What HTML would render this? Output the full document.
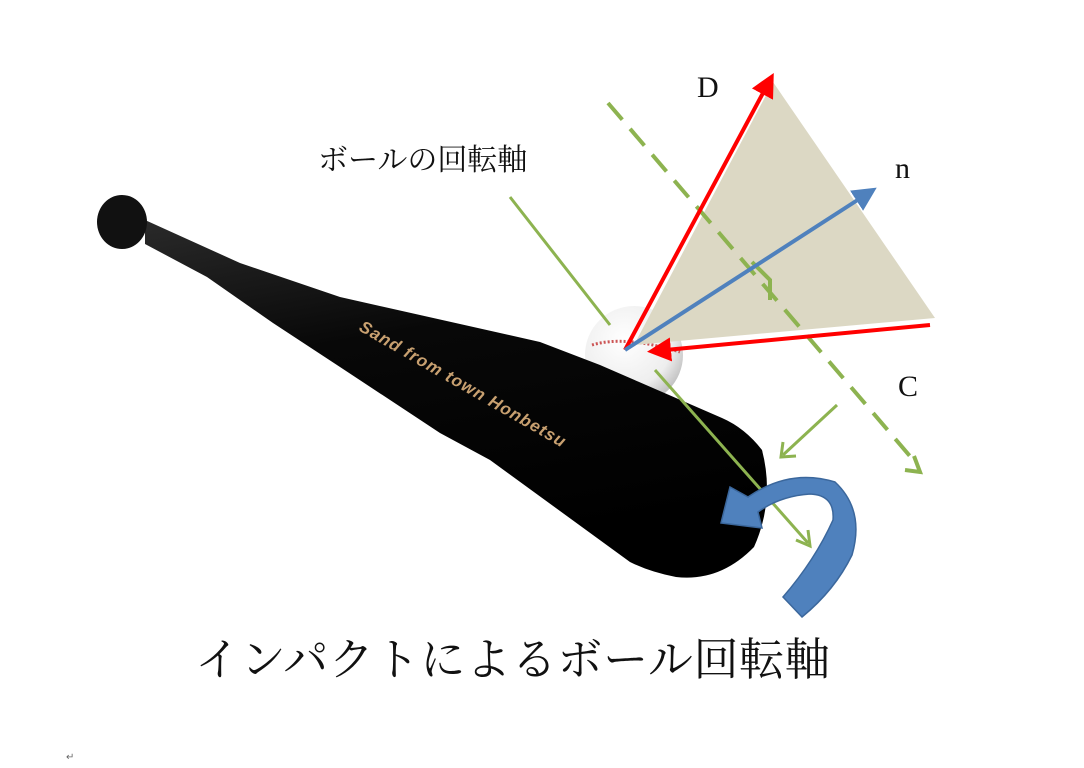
<!DOCTYPE html>
<html><head><meta charset="utf-8"><style>
body{margin:0;background:#fff;width:1084px;height:768px;overflow:hidden}
svg{display:block}
</style></head><body>
<svg width="1084" height="768" viewBox="0 0 1084 768" xmlns="http://www.w3.org/2000/svg">
<defs>
<radialGradient id="ball" cx="0.4" cy="0.35" r="0.7"><stop offset="0" stop-color="#fff"/><stop offset="0.7" stop-color="#eee"/><stop offset="1" stop-color="#bbb"/></radialGradient>
<linearGradient id="bat" x1="0" y1="0" x2="0.3" y2="1"><stop offset="0" stop-color="#2a2a2a"/><stop offset="0.4" stop-color="#080808"/><stop offset="1" stop-color="#000"/></linearGradient>
<marker id="ar" markerWidth="6" markerHeight="6" refX="4" refY="3" orient="auto" markerUnits="strokeWidth"><path d="M0,0 L6,3 L0,6 z" fill="#ff0000"/></marker>
<marker id="ab" markerWidth="6" markerHeight="6" refX="4" refY="3" orient="auto" markerUnits="strokeWidth"><path d="M0,0 L6,3 L0,6 z" fill="#4f81bd"/></marker>
</defs>
<!-- ball -->
<circle cx="634" cy="355" r="49" fill="url(#ball)"/>
<path d="M592,345 Q625,335 680,352" fill="none" stroke="#c55" stroke-width="3" stroke-dasharray="2 2"/>
<!-- bat -->
<path d="M145,220 L240,263 L340,297 L540,342 L600,365 L722,418 Q745,428 762,450 Q775,500 754,547 Q720,582 676,577 Q650,572 630,562 L490,460 L440,433 L340,367 L273,323 L207,277 L145,244 Z" fill="url(#bat)"/>
<ellipse cx="122" cy="222" rx="25" ry="27" fill="#111"/>
<text x="0" y="0" transform="translate(358,330) rotate(30)" font-family="Liberation Sans, sans-serif" font-weight="bold" font-style="italic" font-size="17" fill="#c8a070" textLength="235">Sand from town Honbetsu</text>
<!-- triangle -->
<polygon points="773,82 935,318 634,345" fill="#dcd8c4"/>
<!-- green dashed -->
<line x1="608" y1="103" x2="915" y2="462" stroke="#8db350" stroke-width="4" stroke-dasharray="22 12"/>
<path d="M905,470 L920,472 L914,456" fill="none" stroke="#8db350" stroke-width="4"/>
<path d="M752,262 L770,280 L770,300" fill="none" stroke="#8db350" stroke-width="4"/>
<!-- green solid -->
<line x1="510" y1="197" x2="610" y2="325" stroke="#8db350" stroke-width="3"/>
<line x1="655" y1="370" x2="808" y2="543" stroke="#8db350" stroke-width="3"/>
<path d="M796,540 L810,546 L808,530" fill="none" stroke="#8db350" stroke-width="3"/>
<line x1="837" y1="405" x2="783" y2="455" stroke="#8db350" stroke-width="3"/>
<path d="M783,442 L781,457 L796,456" fill="none" stroke="#8db350" stroke-width="3"/>
<!-- red -->
<line x1="625" y1="350" x2="770" y2="80" stroke="#ff0000" stroke-width="4" marker-end="url(#ar)"/>
<line x1="930" y1="325" x2="655" y2="351" stroke="#ff0000" stroke-width="4" marker-end="url(#ar)"/>
<!-- blue n -->
<line x1="625" y1="350" x2="870" y2="192" stroke="#4f81bd" stroke-width="4" marker-end="url(#ab)"/>
<!-- curved arrow -->
<path d="M721,523 L730,487 L748,497 Q790,468 835,482 Q865,510 852,555 Q835,590 802,617 L783,597 Q815,560 833,520 Q835,495 810,494 Q780,496 758,512 L762,528 Z" fill="#4f81bd" stroke="#3b679c" stroke-width="1.5"/>
<!-- text -->
<text x="318" y="170" font-family="Liberation Serif, Noto Serif CJK SC, serif" font-size="30" fill="#111">ボールの回転軸</text>
<text x="697" y="97" font-family="Liberation Serif, serif" font-size="30" fill="#111">D</text>
<text x="895" y="178" font-family="Liberation Serif, serif" font-size="30" fill="#111">n</text>
<text x="898" y="396" font-family="Liberation Serif, serif" font-size="30" fill="#111">C</text>
<text x="195" y="675" font-family="Liberation Serif, Noto Serif CJK SC, serif" font-size="45" fill="#111" textLength="635">インパクトによるボール回転軸</text>
<text x="66" y="760" font-family="Liberation Sans, sans-serif" font-size="10" fill="#666">↵</text>
</svg>
</body></html>
